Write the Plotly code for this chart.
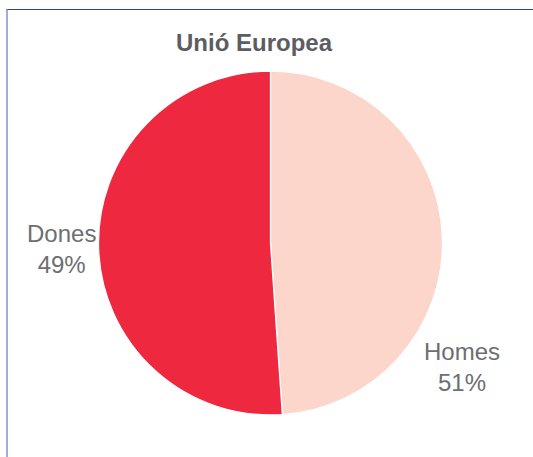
import plotly.graph_objects as go

title = "Unió Europea"
labels = ["Homes", "Dones"]
# slice sizes as drawn in the reference picture
values = [48.9, 51.1]
# percentage text as printed in the reference
pct_text = ["51%", "49%"]
colors = ["#FCD5CB", "#EE283E"]

W, H = 533, 457
ml, mr, mt, mb = 98, 90, 71, 42
pw, ph = W - ml - mr, H - mt - mb

def px(x):
    return (x - ml) / pw

def py(y):
    return 1 - (y - mt) / ph

fig = go.Figure(go.Pie(
    labels=labels, values=values, sort=False, direction="clockwise", rotation=0,
    marker=dict(colors=colors, line=dict(color="white", width=1.3)),
    textinfo="none", hoverinfo="label", showlegend=False,
))

label_pos = {"Dones": (61.5, 249), "Homes": (462, 367)}
ann = []
for lab, pt in zip(labels, pct_text):
    x, y = label_pos[lab]
    ann.append(dict(x=px(x), y=py(y), xref="paper", yref="paper", showarrow=False,
                    xanchor="center", yanchor="middle",
                    text=f"{lab}<br>{pt}", align="center",
                    font=dict(family="Liberation Sans, Arial", size=24, color="#6D6E71")))

shapes = [
    dict(type="line", xref="paper", yref="paper", x0=px(6.3), x1=px(533), y0=py(9.5), y1=py(9.5),
         line=dict(color="#2E4388", width=1)),
    dict(type="line", xref="paper", yref="paper", x0=px(7), x1=px(7), y0=py(9), y1=py(457),
         line=dict(color="#7F90D4", width=1.5)),
]

fig.update_layout(width=W, height=H, margin=dict(l=ml, r=mr, t=mt, b=mb),
                  paper_bgcolor="white", plot_bgcolor="white",
                  title=dict(text=f"<b>{title}</b>", x=254 / W, y=1 - 43 / H, xref="container",
                             yref="container", xanchor="center", yanchor="middle",
                             font=dict(family="Liberation Sans, Arial", size=24, color="#5C5D61")),
                  annotations=ann, shapes=shapes)
fig.write_html("out.html", config={"displayModeBar": False},
               post_script="document.body.style.margin='0';")
